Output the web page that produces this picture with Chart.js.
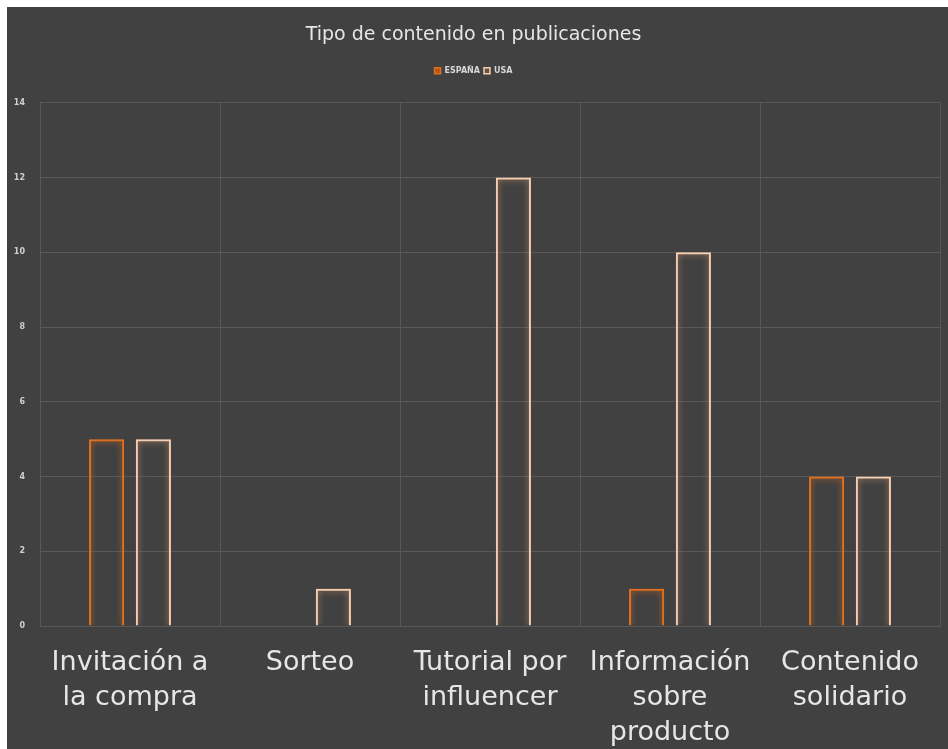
<!DOCTYPE html>
<html>
<head>
<meta charset="utf-8">
<script src="https://cdn.jsdelivr.net/npm/chart.js@4.4.1/dist/chart.umd.min.js"></script>
<style>
  html, body { margin: 0; padding: 0; background: #fff; }
  #wrap { position: absolute; left: 7px; top: 7px; width: 941px; height: 742px; background: #414141; }
</style>
</head>
<body>
<div id="wrap"><canvas id="myChart"></canvas></div>
<script>
var categories = [["Invitación a", "la compra"], ["Sorteo"], ["Tutorial por", "influencer"], ["Información", "sobre", "producto"], ["Contenido", "solidario"]];
var espana = [5, 0, 0, 1, 4];
var usa = [5, 1, 12, 10, 4];
var seriesNames = ["ESPAÑA", "USA"];
var yTicks = [0, 2, 4, 6, 8, 10, 12, 14];
var lineColors = ['#e0701f', '#f6cfb2'];
var legendFill = ['#b8561a', '#6a5048'];

// glow round the bars
var glow = {
    id: 'glow',
    beforeLayout: function(chart) {
        // leave some room under the legend
        var lg = chart.legend;
        if (lg && !lg._extra) {
            var f = lg.fit;
            lg.fit = function() { f.call(this); this.height += 18; };
            lg._extra = true;
        }
    },
    beforeDatasetDraw: function(chart, args) {
        var c = chart.ctx;
        c.save();
        c.shadowColor = args.index === 0 ? 'rgba(230,110,30,0.9)' : 'rgba(240,170,120,0.8)';
        c.shadowBlur = 6;
    },
    afterDatasetDraw: function(chart) {
        chart.ctx.restore();
    }
};

var ctx = document.getElementById('myChart').getContext('2d');
var barChart = new Chart(ctx, {
    type: 'bar',
    data: {
        labels: categories,
        datasets: [
            {
                label: seriesNames[0],
                data: espana,
                borderColor: lineColors[0],
                backgroundColor: 'rgba(0,0,0,0)',
                borderWidth: 2,
                categoryPercentage: 0.52,
                barPercentage: 0.75
            },
            {
                label: seriesNames[1],
                data: usa,
                borderColor: lineColors[1],
                backgroundColor: 'rgba(0,0,0,0)',
                borderWidth: 2,
                categoryPercentage: 0.52,
                barPercentage: 0.75
            }
        ]
    },
    plugins: [glow],
    options: {
        responsive: true,
        maintainAspectRatio: false,
        animation: false,
        layout: { padding: { right: 8, top: 0, bottom: 0, left: 0 } },
        plugins: {
            title: {
                display: true,
                text: 'Tipo de contenido en publicaciones',
                color: '#e6e6e6',
                font: { family: 'DejaVu Sans', size: 19, weight: 'normal' },
                padding: { top: 17, bottom: 16 }
            },
            legend: {
                display: true,
                labels: {
                    color: '#d8d8d8',
                    font: { family: 'DejaVu Sans', size: 8, weight: 'bold' },
                    boxWidth: 6,
                    boxHeight: 6,
                    padding: 4,
                    generateLabels: function(chart) {
                        return chart.data.datasets.map(function(ds, i) {
                            return {
                                text: ds.label,
                                fillStyle: legendFill[i],
                                strokeStyle: lineColors[i],
                                lineWidth: 1.5,
                                fontColor: '#d8d8d8',
                                datasetIndex: i
                            };
                        });
                    }
                }
            },
            tooltip: { enabled: false }
        },
        scales: {
            x: {
                grid: { color: '#575757', lineWidth: 1, drawTicks: false },
                border: { color: '#575757' },
                ticks: {
                    color: '#e6e6e6',
                    font: { family: 'DejaVu Sans', size: 27, lineHeight: 1.29 },
                    padding: 20,
                    maxRotation: 0,
                    autoSkip: false
                },
                afterFit: function(scale) { scale.height = 123; }
            },
            y: {
                min: 0,
                max: 14,
                afterBuildTicks: function(scale) {
                    scale.ticks = yTicks.map(function(v) { return { value: v }; });
                },
                grid: { color: '#585858', lineWidth: 1, drawTicks: false },
                border: { color: '#585858' },
                ticks: {
                    color: '#cfcfcf',
                    font: { family: 'DejaVu Sans', size: 8, weight: 'bold' },
                    padding: 15
                },
                afterFit: function(scale) { scale.width = 33; }
            }
        }
    }
});
</script>
</body>
</html>
